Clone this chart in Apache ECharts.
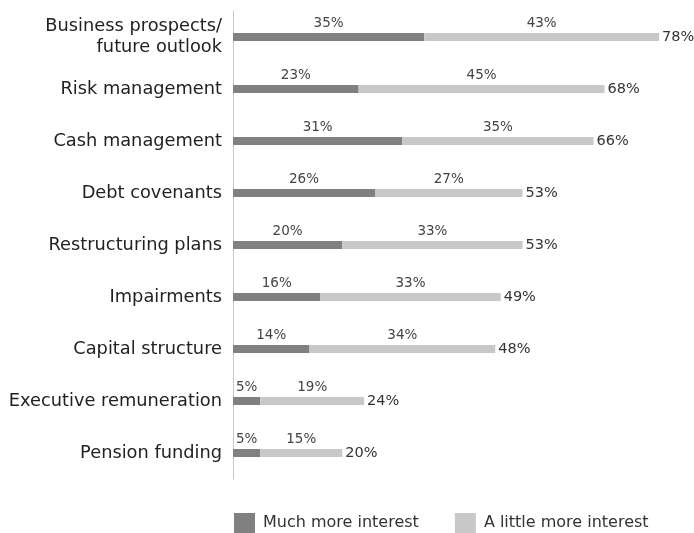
<!DOCTYPE html>
<html>
<head>
<meta charset="utf-8">
<script src="https://cdn.jsdelivr.net/npm/echarts@6/dist/echarts.min.js"></script>
<style>
  html, body { margin: 0; padding: 0; background: #fff; }
  #chart { width: 694px; height: 533px; }
</style>
</head>
<body>
<div id="chart"></div>
<script>
// Areas of increased interest, listed top to bottom
const categories = [
  'Business prospects/\nfuture outlook',
  'Risk management',
  'Cash management',
  'Debt covenants',
  'Restructuring plans',
  'Impairments',
  'Capital structure',
  'Executive remuneration',
  'Pension funding'
];
const muchMore = [35, 23, 31, 26, 20, 16, 14, 5, 5];
const littleMore = [43, 45, 35, 27, 33, 33, 34, 19, 15];
const totals = [78, 68, 66, 53, 53, 49, 48, 24, 20];

const font = '"DejaVu Sans", sans-serif';
const chart = echarts.init(document.getElementById('chart'), null, { renderer: 'canvas' });

const segLabel = {
  show: true,
  position: 'top',
  distance: 3,
  formatter: p => p.value + '%',
  color: '#444',
  fontSize: 13.5,
  fontFamily: font
};

chart.setOption({
  animation: false,
  grid: { left: 233, right: 24, top: 11, bottom: 54, containLabel: false },
  legend: {
    data: ['Much more interest', 'A little more interest'],
    top: 513,
    left: 234,
    padding: 0,
    itemWidth: 21,
    itemHeight: 20,
    itemGap: 36,
    icon: 'rect',
    textStyle: { fontSize: 16, color: '#333', fontFamily: font, padding: [0, 0, 0, 3] }
  },
  xAxis: {
    type: 'value',
    min: 0,
    max: 80,
    show: false
  },
  yAxis: {
    type: 'category',
    inverse: true,
    data: categories,
    axisLine: { show: true, lineStyle: { color: '#c8c8c8', width: 1 } },
    axisTick: { show: false },
    axisLabel: {
      margin: 11,
      color: '#222',
      fontSize: 17.8,
      lineHeight: 21,
      fontFamily: font,
      align: 'right'
    }
  },
  series: [
    {
      name: 'Much more interest',
      type: 'bar',
      stack: 'all',
      barWidth: 8,
      itemStyle: { color: '#808080' },
      label: segLabel,
      data: muchMore
    },
    {
      name: 'A little more interest',
      type: 'bar',
      stack: 'all',
      barWidth: 8,
      itemStyle: { color: '#c8c8c8' },
      label: segLabel,
      data: littleMore
    },
    {
      // zero-width cap carrying the total at the end of each bar
      name: 'Total',
      type: 'bar',
      stack: 'all',
      barWidth: 8,
      itemStyle: { color: 'transparent' },
      label: {
        show: true,
        position: 'right',
        distance: 3,
        formatter: p => totals[p.dataIndex] + '%',
        color: '#333',
        fontSize: 14.5,
        fontFamily: font
      },
      data: totals.map(() => 0)
    }
  ]
});
</script>
</body>
</html>
